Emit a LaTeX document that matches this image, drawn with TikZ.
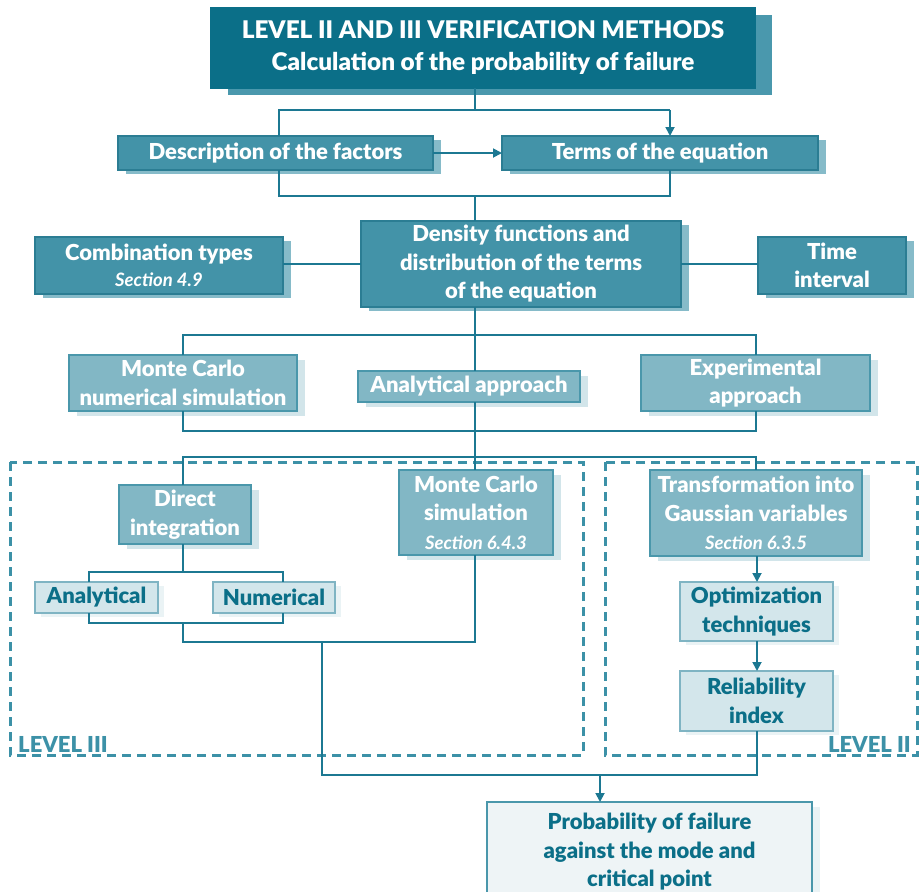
\documentclass[tikz,border=0pt]{standalone}
\usepackage{fontspec}
\setmainfont{Lato}[BoldFont={Lato Black}, BoldItalicFont={Lato Bold Italic}]
\usetikzlibrary{arrows.meta,shadows}

\definecolor{deep}{HTML}{0B6F88}
\definecolor{deepshadow}{HTML}{4A98AD}
\definecolor{mid}{HTML}{4393A8}
\definecolor{midedge}{HTML}{2B7D93}
\definecolor{midshadow}{HTML}{86BBC9}
\definecolor{soft}{HTML}{82B7C5}
\definecolor{softedge}{HTML}{4A97AB}
\definecolor{softshadow}{HTML}{D2E5EA}
\definecolor{pale}{HTML}{D3E6EB}
\definecolor{paleedge}{HTML}{7FB4C3}
\definecolor{paleshadow}{HTML}{EAF3F5}
\definecolor{faint}{HTML}{EEF4F6}
\definecolor{wire}{HTML}{1C7892}
\definecolor{frame}{HTML}{3C91A7}

% italic section references inside boxes
\newcommand\secref[1]{{\fontsize{18.5}{28}\selectfont\bfseries\itshape #1}}

\tikzset{
  basebox/.style={rectangle, inner sep=0pt, outer sep=0pt, align=center,
    font=\fontsize{22}{28.5}\selectfont\bfseries, line width=1.2pt},
  titlebox/.style={basebox, fill=deep, draw=deep, text=white,
    font=\fontsize{24.3}{32}\selectfont\bfseries,
    general shadow={fill=deepshadow, shadow xshift=17pt, shadow yshift=-7pt}},
  midbox/.style={basebox, fill=mid, draw=midedge, text=white,
    general shadow={fill=midshadow, shadow xshift=8pt, shadow yshift=-4pt}},
  softbox/.style={basebox, fill=soft, draw=softedge, text=white,
    general shadow={fill=softshadow, shadow xshift=8pt, shadow yshift=-5pt}},
  palebox/.style={basebox, fill=pale, draw=paleedge, text=deep,
    general shadow={fill=paleshadow, shadow xshift=6pt, shadow yshift=-4pt}},
  endbox/.style={basebox, fill=faint, draw=softedge, text=deep,
    general shadow={fill=paleshadow, shadow xshift=8pt, shadow yshift=-5pt}},
  conn/.style={draw=wire, line width=1.8pt},
  arr/.style={conn, -{Triangle[length=9pt,width=9pt]}},
  levelframe/.style={draw=frame, line width=3pt, dash pattern=on 9pt off 6pt},
  leveltag/.style={text=frame, font=\fontsize{22}{22}\selectfont\bfseries, inner sep=0pt}
}

\begin{document}
\begin{tikzpicture}[x=1pt,y=-1pt]
\useasboundingbox (0,0) rectangle (923,891);

% level frames
\draw[levelframe] (10,462) rectangle (583,755);
\draw[levelframe] (605,462) rectangle (917,755);
\node[leveltag, anchor=base west] (l3) at (18,752) {LEVEL III};
\node[leveltag, anchor=base east] (l2) at (911,752) {LEVEL II};

% header and equation terms
\node[titlebox, minimum width=544, minimum height=80] (title) at (483,48)
  {LEVEL II AND III VERIFICATION METHODS\\Calculation of the probability of failure};
\node[midbox, minimum width=315, minimum height=34] (desc) at (275.5,153) {Description of the factors};
\node[midbox, minimum width=316, minimum height=34] (terms) at (660,153) {Terms of the equation};
\node[midbox, minimum width=320, minimum height=86] (dens) at (521,264)
  {Density functions and\\distribution of the terms\\of the equation};
\node[midbox, minimum width=248, minimum height=57] (comb) at (159,265.5)
  {Combination types\\[-2pt]\secref{Section 4.9}};
\node[midbox, minimum width=148, minimum height=57] (time) at (832,265.5) {Time\\interval};

% approaches
\node[softbox, minimum width=228, minimum height=56] (mcn) at (183,383) {Monte Carlo\\numerical simulation};
\node[softbox, minimum width=222, minimum height=31] (ana) at (469,386.5) {Analytical approach};
\node[softbox, minimum width=229, minimum height=56] (exp) at (755.5,383) {Experimental\\approach};

% level III
\node[softbox, minimum width=132, minimum height=59] (dir) at (185,514.5) {Direct\\integration};
\node[softbox, minimum width=154, minimum height=85] (mcs) at (476,512.5)
  {Monte Carlo\\simulation\\\secref{Section 6.4.3}};
\node[palebox, minimum width=123, minimum height=31] (anal) at (96.5,597.5) {Analytical};
\node[palebox, minimum width=122, minimum height=31] (num) at (274,597.5) {Numerical};

% level II
\node[softbox, minimum width=212, minimum height=86] (trans) at (756,513)
  {Transformation into\\Gaussian variables\\\secref{Section 6.3.5}};
\node[palebox, minimum width=153, minimum height=59] (opt) at (756.5,611.5) {Optimization\\techniques};
\node[palebox, minimum width=153, minimum height=60] (rel) at (756.5,701) {Reliability\\index};

% result
\node[endbox, minimum width=325, minimum height=100] (prob) at (649.5,852)
  {Probability of failure\\against the mode and\\critical point};

% junctions
\coordinate (a0) at (475,110); \coordinate (a1) at (279,110); \coordinate (a2) at (670,110);
\coordinate (b0) at (475,196); \coordinate (b1) at (279,196); \coordinate (b2) at (670,196);
\coordinate (c0) at (475,335); \coordinate (c1) at (183,335); \coordinate (c2) at (756,335);
\coordinate (d0) at (475,431); \coordinate (d1) at (183,431); \coordinate (d2) at (756,431);
\coordinate (e0) at (475,457); \coordinate (e1) at (183,457); \coordinate (e2) at (756,457);
\coordinate (f0) at (183,572); \coordinate (f1) at (89,572);  \coordinate (f2) at (283,572);
\coordinate (g0) at (183,623); \coordinate (g1) at (89,623);  \coordinate (g2) at (283,623);
\coordinate (h0) at (183,642); \coordinate (h1) at (322,642); \coordinate (h2) at (475,642);
\coordinate (k0) at (600,775); \coordinate (k1) at (322,775); \coordinate (k2) at (757,775);

% connectors
\draw[conn] (title.south -| a0) -- (a0);
\draw[conn] (desc.north -| a1) -- (a1) -- (a2);
\draw[arr] (a2) -- (terms.north -| a2);
\draw[arr] (desc.east) -- (terms.west);
\draw[conn] (desc.south -| b1) -- (b1) -- (b2) -- (terms.south -| b2);
\draw[conn] (b0) -- (dens.north -| b0);
\draw[conn] (comb.east |- 0,264) -- (dens.west |- 0,264);
\draw[conn] (dens.east |- 0,264) -- (time.west |- 0,264);
\draw[conn] (dens.south -| c0) -- (ana.north -| c0);
\draw[conn] (mcn.north -| c1) -- (c1) -- (c2) -- (exp.north -| c2);
\draw[conn] (mcn.south -| d1) -- (d1) -- (d2) -- (exp.south -| d2);
\draw[conn] (ana.south -| d0) -- (e0);
\draw[conn] (dir.north -| e1) -- (e1) -- (e2) -- (trans.north -| e2);
\draw[conn] (e0) -- (mcs.north -| e0);
\draw[conn] (dir.south -| f0) -- (f0);
\draw[conn] (anal.north -| f1) -- (f1) -- (f2) -- (num.north -| f2);
\draw[conn] (anal.south -| g1) -- (g1) -- (g2) -- (num.south -| g2);
\draw[conn] (g0) -- (h0) -- (h2) -- (mcs.south -| h2);
\draw[conn] (h1) -- (k1) -- (k2) -- (rel.south -| k2);
\draw[arr] (k0) -- (prob.north -| k0);
\draw[arr] (trans.south -| k2) -- (opt.north -| k2);
\draw[arr] (opt.south -| k2) -- (rel.north -| k2);
\end{tikzpicture}
\end{document}
